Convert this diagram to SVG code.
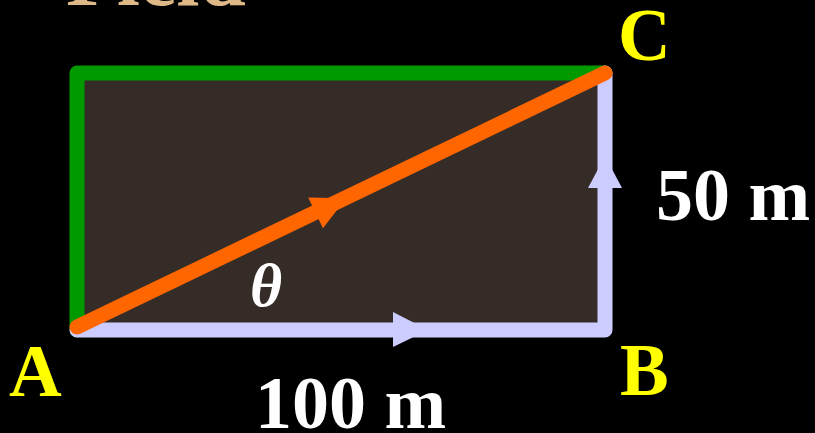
<svg xmlns="http://www.w3.org/2000/svg" width="815" height="433" viewBox="0 0 815 433">
<style>
.lbl{font-family:"Liberation Serif","Times New Roman",serif;font-weight:bold;}
.yel{fill:#FFFF00;font-size:73px;}
.wht{fill:#FFFFFF;font-size:74px;}
.edge{fill:none;stroke-width:15;stroke-linecap:round;stroke-linejoin:round;}
</style>
<rect x="0" y="0" width="815" height="433" fill="#000"/>
<text class="lbl" x="66" y="5" style="fill:#DEB887;font-size:83px">Field</text>
<g id="field">
<rect x="77" y="73" width="528" height="257" fill="#352c28"/>
</g>
<g id="connectors">
<path class="edge" d="M77,330 L77,73 L605,73" stroke="#009900"/>
<path class="edge" d="M77,330 L605,330 L605,73" stroke="#CCCCFF"/>
<polygon points="393,312 428,330 393,347" fill="#CCCCFF"/>
<polygon points="588,188 605,156 622,188" fill="#CCCCFF"/>
<path class="edge" d="M77,327 L605,73" stroke="#FF6600"/>
<g transform="translate(330,206) rotate(-25.7)">
<polygon points="-16,-17 18,0 -16,17" fill="#FF6600"/>
</g>
</g>
<g id="A"><text class="lbl yel" x="9" y="396">A</text></g>
<g id="B"><text class="lbl yel" x="620" y="395">B</text></g>
<g id="C"><text class="lbl yel" x="618" y="60">C</text></g>
<g id="len50"><text class="lbl wht" x="656" y="220">50 m</text></g>
<g id="len100"><text class="lbl wht" x="255" y="428">100 m</text></g>
<g id="theta"><text x="250" y="306" style="font-family:'Liberation Serif','Times New Roman',serif;font-style:italic;font-weight:bold;fill:#fff;font-size:62px">θ</text></g>
</svg>
